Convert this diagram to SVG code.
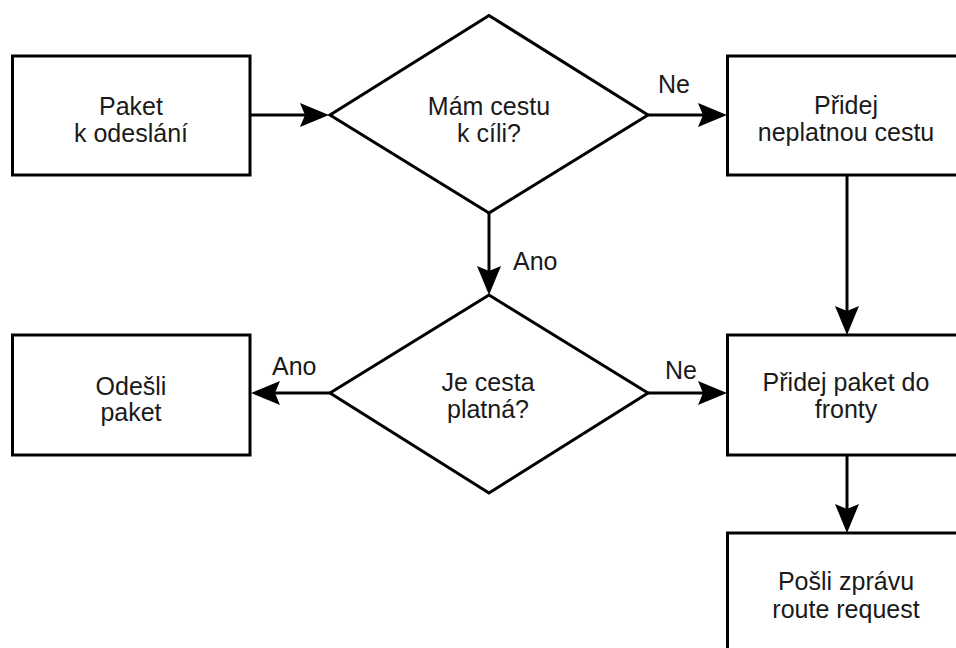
<svg xmlns="http://www.w3.org/2000/svg" width="956" height="648" viewBox="0 0 956 648">
  <style>
    .shape { fill: #ffffff; stroke: #000000; stroke-width: 3; }
    .edge { fill: none; stroke: #000000; stroke-width: 3; }
    .label { font-family: "Liberation Sans", Arial, sans-serif; font-size: 25px; fill: #1a1a1a; text-anchor: middle; }
    .edge-label { font-family: "Liberation Sans", Arial, sans-serif; font-size: 25px; fill: #1a1a1a; }
  </style>
  <defs>
    <marker id="arrow" markerUnits="userSpaceOnUse" markerWidth="40" markerHeight="40" refX="0" refY="0" viewBox="-10 -20 40 40" orient="auto" overflow="visible">
      <path d="M 24 0 L -5 -12 L 0 0 L -5 12 Z" fill="#000000"/>
    </marker>
  </defs>

  <rect width="956" height="648" fill="#ffffff"/>

  <!-- connectors -->
  <g id="connectors">
    <line class="edge" x1="250" y1="115" x2="305" y2="115" marker-end="url(#arrow)"/>
    <line class="edge" x1="648" y1="115" x2="703" y2="115" marker-end="url(#arrow)"/>
    <line class="edge" x1="489" y1="213" x2="489" y2="271" marker-end="url(#arrow)"/>
    <line class="edge" x1="847" y1="175" x2="847" y2="311" marker-end="url(#arrow)"/>
    <line class="edge" x1="330" y1="393" x2="275" y2="393" marker-end="url(#arrow)"/>
    <line class="edge" x1="648" y1="393" x2="703" y2="393" marker-end="url(#arrow)"/>
    <line class="edge" x1="847" y1="455" x2="847" y2="509" marker-end="url(#arrow)"/>
    <text class="edge-label" x="658" y="93">Ne</text>
    <text class="edge-label" x="513" y="270">Ano</text>
    <text class="edge-label" x="272" y="375">Ano</text>
    <text class="edge-label" x="665" y="379">Ne</text>
  </g>

  <!-- nodes -->
  <g id="packet-to-send">
    <rect class="shape" x="12.5" y="56" width="237.5" height="119"/>
    <text class="label" x="131" y="115">Paket</text>
    <text class="label" x="131" y="142">k odeslání</text>
  </g>

  <g id="have-route">
    <polygon class="shape" points="489,15.5 648,115 489,213 330,115"/>
    <text class="label" x="489" y="115">Mám cestu</text>
    <text class="label" x="489" y="142">k cíli?</text>
  </g>

  <g id="add-invalid-route">
    <rect class="shape" x="727.5" y="56" width="238" height="119"/>
    <text class="label" x="846" y="114">Přidej</text>
    <text class="label" x="846" y="141">neplatnou cestu</text>
  </g>

  <g id="route-valid">
    <polygon class="shape" points="489,295 648,393 489,493 330,393"/>
    <text class="label" x="488" y="391">Je cesta</text>
    <text class="label" x="488" y="418">platná?</text>
  </g>

  <g id="send-packet">
    <rect class="shape" x="12.5" y="335" width="237.5" height="120"/>
    <text class="label" x="131" y="395">Odešli</text>
    <text class="label" x="131" y="421">paket</text>
  </g>

  <g id="enqueue-packet">
    <rect class="shape" x="727.5" y="335" width="238" height="120"/>
    <text class="label" x="846" y="391">Přidej paket do</text>
    <text class="label" x="846" y="418">fronty</text>
  </g>

  <g id="send-route-request">
    <rect class="shape" x="727.5" y="533" width="238" height="125"/>
    <text class="label" x="846" y="590">Pošli zprávu</text>
    <text class="label" x="846" y="618">route request</text>
  </g>
</svg>
